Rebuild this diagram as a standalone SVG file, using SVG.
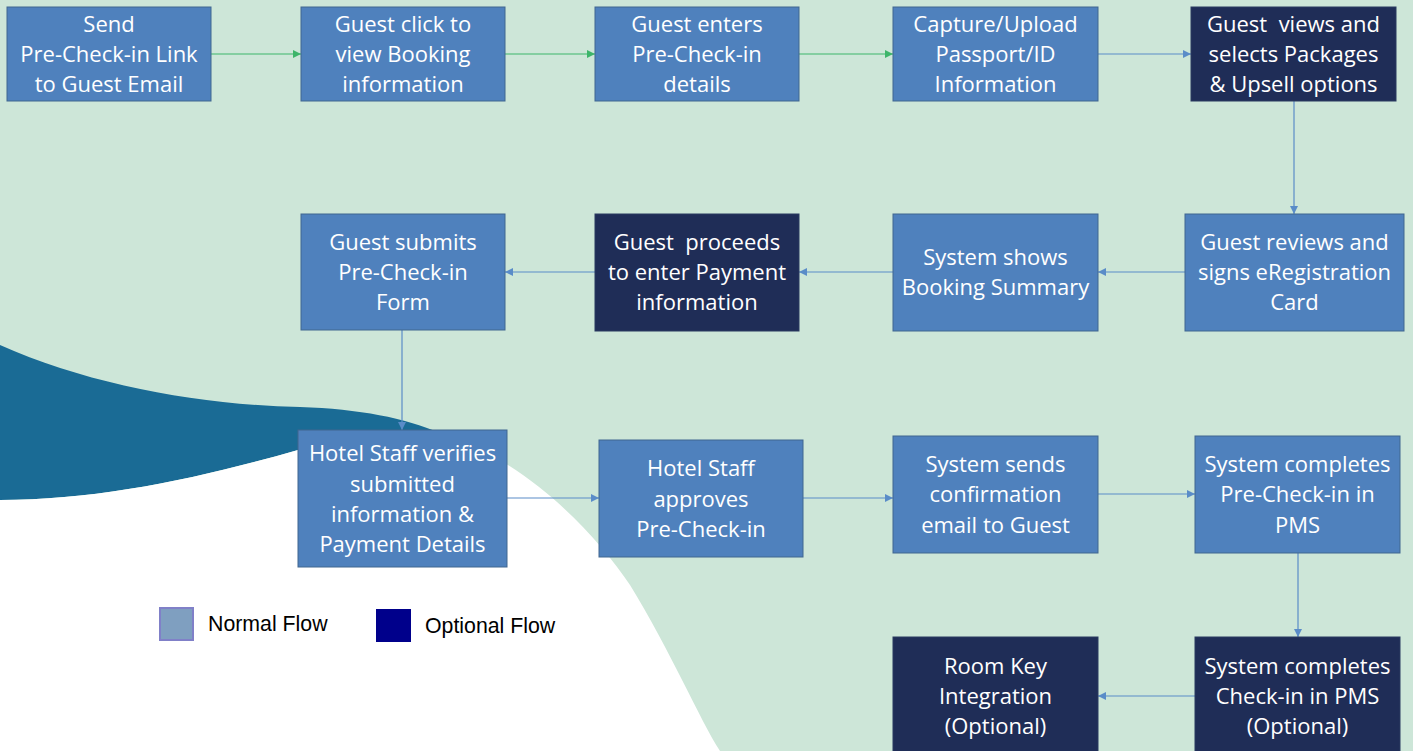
<svg xmlns="http://www.w3.org/2000/svg" width="1413" height="751" viewBox="0 0 1413 751">
<defs>
<marker id="ag" viewBox="0 0 10 10" refX="10" refY="5" markerWidth="8" markerHeight="8" markerUnits="userSpaceOnUse" orient="auto"><path d="M0,0 L10,5 L0,10 Z" fill="#3DB56A"/></marker>
<marker id="ab" viewBox="0 0 10 10" refX="10" refY="5" markerWidth="8" markerHeight="8" markerUnits="userSpaceOnUse" orient="auto"><path d="M0,0 L10,5 L0,10 Z" fill="#5A8CC8"/></marker>
</defs>
<style>
.n rect{fill:#4F81BD;stroke:#41668F;stroke-width:1}
.o rect{fill:#1F2D57;stroke:#2B3A60;stroke-width:1}
.n text,.o text{fill:#FFFFFF;font-family:"Open Sans","Noto Sans",sans-serif;font-size:22px;text-anchor:middle}
.cg{stroke:#3DB56A;stroke-width:1.2;fill:none;marker-end:url(#ag)}
.cb{stroke:#5A8CC8;stroke-width:1.2;fill:none;marker-end:url(#ab)}
.lg{font-family:"Liberation Sans",Arial,sans-serif;font-size:21.3px;fill:#000}
</style>
<rect x="0" y="0" width="1413" height="751" fill="#CDE6D8"/>
<path d="M0,345 C90,385 200,405 300,407 C360,409 405,418 440,433 C380,430 340,438 298,450 C200,478 100,500 0,500 Z" fill="#1A6B95"/>
<path d="M0,500 C100,500 200,478 298,450 C360,433 420,425 470,445 C540,475 600,540 630,585 C670,650 700,720 720,751 L0,751 Z" fill="#FFFFFF"/>

<g id="connectors">
<line class="cg" x1="211" y1="54" x2="301" y2="54"/>
<line class="cg" x1="505" y1="54" x2="595" y2="54"/>
<line class="cg" x1="799" y1="54" x2="893" y2="54"/>
<line class="cb" x1="1098" y1="54" x2="1191" y2="54"/>
<line class="cb" x1="1294" y1="101" x2="1294" y2="214"/>
<line class="cb" x1="1185" y1="272" x2="1098" y2="272"/>
<line class="cb" x1="893" y1="272" x2="799" y2="272"/>
<line class="cb" x1="595" y1="272" x2="505" y2="272"/>
<line class="cb" x1="402" y1="330" x2="402" y2="430"/>
<line class="cb" x1="507" y1="498" x2="599" y2="498"/>
<line class="cb" x1="803" y1="498" x2="893" y2="498"/>
<line class="cb" x1="1098" y1="494" x2="1195" y2="494"/>
<line class="cb" x1="1298" y1="553" x2="1298" y2="637"/>
<line class="cb" x1="1195" y1="696" x2="1098" y2="696"/>
</g>

<g id="n1" class="n"><rect x="7" y="7" width="204" height="94"/><text x="109" y="32">Send</text><text x="109" y="62">Pre-Check-in Link</text><text x="109" y="92">to Guest Email</text></g>
<g id="n2" class="n"><rect x="301" y="7" width="204" height="94"/><text x="403" y="32">Guest click to</text><text x="403" y="62">view Booking</text><text x="403" y="92">information</text></g>
<g id="n3" class="n"><rect x="595" y="7" width="204" height="94"/><text x="697" y="32">Guest enters</text><text x="697" y="62">Pre-Check-in</text><text x="697" y="92">details</text></g>
<g id="n4" class="n"><rect x="893" y="7" width="205" height="94"/><text x="995.5" y="32">Capture/Upload</text><text x="995.5" y="62">Passport/ID</text><text x="995.5" y="92">Information</text></g>
<g id="n5" class="o"><rect x="1191" y="7" width="205" height="94"/><text x="1293.5" y="32" xml:space="preserve">Guest  views and</text><text x="1293.5" y="62">selects Packages</text><text x="1293.5" y="92">&amp; Upsell options</text></g>

<g id="n6" class="n"><rect x="1185" y="214" width="219" height="117"/><text x="1294.5" y="250">Guest reviews and</text><text x="1294.5" y="280">signs eRegistration</text><text x="1294.5" y="310">Card</text></g>
<g id="n7" class="n"><rect x="893" y="214" width="205" height="117"/><text x="995.5" y="265">System shows</text><text x="995.5" y="295">Booking Summary</text></g>
<g id="n8" class="o"><rect x="595" y="214" width="204" height="117"/><text x="697" y="250" xml:space="preserve">Guest  proceeds</text><text x="697" y="280">to enter Payment</text><text x="697" y="310">information</text></g>
<g id="n9" class="n"><rect x="301" y="214" width="204" height="116"/><text x="403" y="250">Guest submits</text><text x="403" y="280">Pre-Check-in</text><text x="403" y="310">Form</text></g>

<g id="n10" class="n"><rect x="298" y="430" width="209" height="137"/><text x="402.5" y="461">Hotel Staff verifies</text><text x="402.5" y="492">submitted</text><text x="402.5" y="522">information &amp;</text><text x="402.5" y="552">Payment Details</text></g>
<g id="n11" class="n"><rect x="599" y="440" width="204" height="117"/><text x="701" y="476">Hotel Staff</text><text x="701" y="507">approves</text><text x="701" y="537">Pre-Check-in</text></g>
<g id="n12" class="n"><rect x="893" y="436" width="205" height="117"/><text x="995.5" y="472">System sends</text><text x="995.5" y="502">confirmation</text><text x="995.5" y="533">email to Guest</text></g>
<g id="n13" class="n"><rect x="1195" y="436" width="205" height="117"/><text x="1297.5" y="472">System completes</text><text x="1297.5" y="502">Pre-Check-in in</text><text x="1297.5" y="533">PMS</text></g>

<g id="n14" class="o"><rect x="893" y="637" width="205" height="120"/><text x="995.5" y="674">Room Key</text><text x="995.5" y="704">Integration</text><text x="995.5" y="734">(Optional)</text></g>
<g id="n15" class="o"><rect x="1195" y="637" width="205" height="120"/><text x="1297.5" y="674">System completes</text><text x="1297.5" y="704">Check-in in PMS</text><text x="1297.5" y="734">(Optional)</text></g>

<g id="legend">
<rect x="160" y="608" width="33" height="32" fill="#7F9FC0" stroke="#8080C8" stroke-width="2"/>
<text class="lg" x="208" y="631">Normal Flow</text>
<rect x="376" y="609" width="35" height="33" fill="#00008B"/>
<text class="lg" x="425" y="633">Optional Flow</text>
</g>
</svg>
